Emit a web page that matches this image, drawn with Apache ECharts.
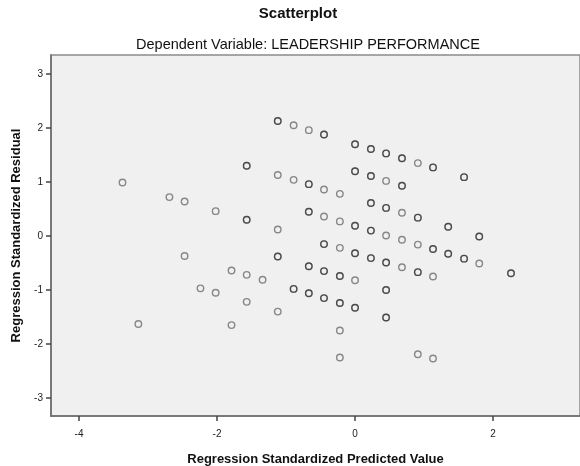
<!DOCTYPE html>
<html>
<head>
<meta charset="utf-8">
<script src="https://cdn.jsdelivr.net/npm/echarts@6/dist/echarts.min.js"></script>
<style>
html,body{margin:0;padding:0;background:#fff;}
#chart{width:580px;height:466px;}
</style>
</head>
<body>
<div id="chart"></div>
<script>
// Regression standardized predicted values (x) and residuals (y); caseCount = overlapping cases at a point
const predicted = [
  -3.37, -2.69, -2.47, -2.02, -0.89, -0.67, 0.91, -1.12, -0.89, -0.45,
  -0.22, 0.45, -1.12, -0.45, -0.22, 0.45, 0.68, 0.68, 0.91, -0.22,
  1.80, 0.68, 1.13, 0.91, 1.13, -1.79, -1.57, -1.34, 0.00, -1.57,
  -1.79, -1.12, -0.22, -0.22, -2.02, -2.47, -2.24, -3.14,
  -1.12, -0.45, 0.00, 0.23, 0.45, 0.68, 1.13, 1.58, -1.57, -0.67,
  0.00, 0.23, 0.68, -1.57, -0.67, 0.00, 0.23, 0.23, 0.45, 0.91,
  1.35, 1.80, 1.13, -0.45, 0.00, 0.23, 0.45, 1.35, 1.58, 2.26,
  0.91, 0.45, 0.45, -1.12, -0.67, -0.45, -0.22, -0.89, -0.67, -0.45,
  -0.22, 0.00
];
const residual = [
  0.99, 0.72, 0.64, 0.46, 2.05, 1.96, 1.35, 1.13, 1.04, 0.86,
  0.78, 1.02, 0.12, 0.36, 0.27, 0.01, 0.43, -0.07, -0.16, -0.22,
  -0.51, -0.58, -0.75, -2.19, -2.27, -0.64, -0.72, -0.81, -0.82, -1.22,
  -1.65, -1.40, -1.75, -2.25, -1.05, -0.37, -0.97, -1.63,
  2.13, 1.88, 1.70, 1.61, 1.53, 1.44, 1.27, 1.09, 1.30, 0.96,
  1.20, 1.11, 0.93, 0.30, 0.45, 0.19, 0.10, 0.61, 0.52, 0.34,
  0.17, -0.01, -0.24, -0.15, -0.32, -0.41, -0.49, -0.33, -0.42, -0.69,
  -0.67, -1.00, -1.51, -0.38, -0.56, -0.65, -0.74, -0.98, -1.06, -1.15,
  -1.24, -1.33
];
const caseCount = [
  1,1,1,1,1,1,1,1,1,1, 1,1,1,1,1,1,1,1,1,1,
  1,1,1,1,1,1,1,1,1,1, 1,1,1,1,1,1,1,1,
  2,2,2,2,2,2,2,2,2,2, 2,2,2,2,2,2,2,2,2,2,
  2,2,2,2,2,2,2,2,2,2, 2,2,2,2,2,2,2,2,2,2,
  2,2
];
const xTicks = [-4, -2, 0, 2];
const yTicks = [-3, -2, -1, 0, 1, 2, 3];
const titleText = 'Scatterplot';
const subtitleText = 'Dependent Variable: LEADERSHIP PERFORMANCE';
const xName = 'Regression Standardized Predicted Value';
const yName = 'Regression Standardized Residual';

const points = [];
predicted.forEach((x, i) => {
  for (let k = 0; k < caseCount[i]; k++) points.push([x, residual[i]]);
});

const FONT = 'Arial, "Liberation Sans", sans-serif';
const chart = echarts.init(document.getElementById('chart'), null, {renderer: 'canvas'});
chart.setOption({
  backgroundColor: '#ffffff',
  animation: false,
  title: [
    {text: titleText, left: 298, top: 6, textAlign: 'center', padding: 0,
     textStyle: {fontFamily: FONT, fontSize: 15, fontWeight: 'bold', color: '#111'}},
    {text: subtitleText, left: 308, top: 37, textAlign: 'center', padding: 0,
     textStyle: {fontFamily: FONT, fontSize: 14.5, fontWeight: 'normal', color: '#111'}}
  ],
  grid: {left: 51, top: 55, right: 0, bottom: 50, show: true, containLabel: false,
         outerBoundsMode: 'none',
         backgroundColor: '#f0f0f0', borderColor: '#8a8a8a', borderWidth: 1.5},
  xAxis: {
    type: 'value', min: -4.406, max: 3.26,
    name: xName, nameLocation: 'middle', nameGap: 37,
    nameTextStyle: {fontFamily: FONT, fontSize: 13, fontWeight: 'bold', color: '#111'},
    axisLine: {show: true, onZero: false, lineStyle: {color: '#6a6a6a', width: 1.5}},
    axisTick: {show: true, customValues: xTicks, length: 5, inside: false, lineStyle: {color: '#444', width: 1.5}},
    axisLabel: {customValues: xTicks, fontFamily: FONT, fontSize: 10, color: '#222', margin: 13},
    splitLine: {show: false}
  },
  yAxis: {
    type: 'value', min: -3.334, max: 3.352,
    name: yName, nameLocation: 'middle', nameGap: 27, nameRotate: 90,
    nameTextStyle: {fontFamily: FONT, fontSize: 13, fontWeight: 'bold', color: '#111'},
    axisLine: {show: true, onZero: false, lineStyle: {color: '#6a6a6a', width: 1.5}},
    axisTick: {show: true, customValues: yTicks, length: 5, inside: false, lineStyle: {color: '#444', width: 1.5}},
    axisLabel: {customValues: yTicks, fontFamily: FONT, fontSize: 10, color: '#222', margin: 8},
    splitLine: {show: false}
  },
  series: [{
    type: 'scatter',
    data: points,
    symbol: 'circle',
    symbolSize: 6.5,
    itemStyle: {color: 'rgba(0,0,0,0)', borderColor: 'rgba(0,0,0,0.55)', borderWidth: 1.4},
    emphasis: {disabled: true}
  }]
});
</script>
</body>
</html>
